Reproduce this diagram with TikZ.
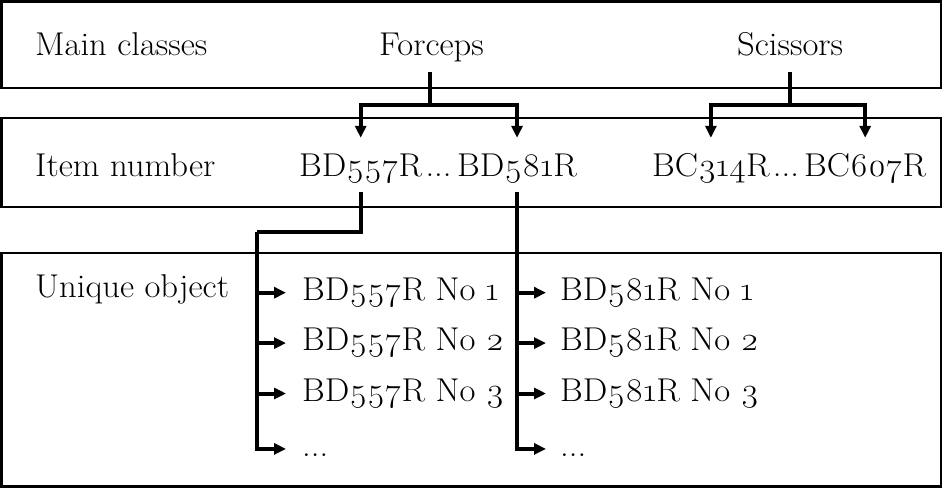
\documentclass[tikz,border=0pt]{standalone}
\usepackage{fontspec}
\setmainfont{Latin Modern Roman}[Numbers=OldStyle, FakeStretch=1.05]
\usetikzlibrary{arrows.meta, positioning}

\begin{document}
\begin{tikzpicture}[
    x=1pt, y=-1pt,
    % Global styles
    font=\fontsize{33}{38}\selectfont,
    node distance=21pt,
    % Text styles
    txt/.style={
        inner sep=0pt,
        text height=22pt,
        text depth=7pt,
        anchor=base west
    },
    item/.style={
        txt,
        anchor=north west
    },
    % Frame and line styles
    frame/.style={
        draw=black,
        line width=2.5pt
    },
    link/.style={
        line width=4pt,
        color=black
    },
    arrow/.style={
        link,
        -{Triangle[length=12pt, width=11pt]}
    }
]
\useasboundingbox (0,0) rectangle (943,488);

% --- Layers ---
\draw [frame] (1.5,1.5) rectangle (941,88);
\draw [frame] (1.5,118) rectangle (941,207);
\draw [frame] (1.5,253) rectangle (941,486.5);

% --- Nodes ---

% Main classes
\node (mainlbl) [txt] at (35,55) {Main classes};
\node (forceps) [txt] at (379,55) {Forceps};
\node (scissors) [txt] at (737,55) {Scissors};

% Item numbers
\node (itemlbl) [txt] at (35,176) {Item number};
\node (bd557) [txt] at (299,176) {BD557R};
\node (dotsbd) [txt, right=3pt of bd557.base east, anchor=base west] {...};
\node (bd581) [txt] at (457,176) {BD581R};
\node (bc314) [txt] at (652,176) {BC314R};
\node (dotsbc) [txt, right=3pt of bc314.base east, anchor=base west] {...};
\node (bc607) [txt] at (804,176) {BC607R};

% Unique objects
\node (uniquelbl) [txt] at (35,297) {Unique object};
\node (la) [item] at (302,278) {BD557R No 1};
\node (lb) [item, below=of la.south west, anchor=north west] {BD557R No 2};
\node (lc) [item, below=of lb.south west, anchor=north west] {BD557R No 3};
\node (ld) [item, below=26pt of lc.south west, anchor=north west] {...};
\node (ra) [item] at (560,278) {BD581R No 1};
\node (rb) [item, below=of ra.south west, anchor=north west] {BD581R No 2};
\node (rc) [item, below=of rb.south west, anchor=north west] {BD581R No 3};
\node (rd) [item, below=26pt of rc.south west, anchor=north west] {...};

% Joints
\coordinate (fjoint) at (430,105);
\coordinate (sjoint) at (790,105);
\coordinate (lcorner) at (257,232);

% --- Edges ---

% Classes to item numbers
\draw [link] (forceps.south -| fjoint) ++(0,10) -- (fjoint);
\draw [arrow, shorten >=16pt] (fjoint) -| (bd557.north);
\draw [arrow, shorten >=16pt] (fjoint) -| (bd581.north);
\draw [link] (scissors.south -| sjoint) ++(0,10) -- (sjoint);
\draw [arrow, shorten >=16pt] (sjoint) -| (bc314.north);
\draw [arrow, shorten >=16pt] (sjoint) -| (bc607.north);

% Item numbers to unique objects
\draw [link, shorten <=9pt] (bd557.south) |- (lcorner);
\draw [arrow, shorten >=16pt] (lcorner) |- (ld.west);
\draw [arrow, shorten >=16pt] (lcorner |- la.west) -- (la.west);
\draw [arrow, shorten >=16pt] (lcorner |- lb.west) -- (lb.west);
\draw [arrow, shorten >=16pt] (lcorner |- lc.west) -- (lc.west);

\draw [arrow, shorten <=9pt, shorten >=14pt] (bd581.south) |- (rd.west);
\draw [arrow, shorten >=14pt] (bd581.south |- ra.west) -- (ra.west);
\draw [arrow, shorten >=14pt] (bd581.south |- rb.west) -- (rb.west);
\draw [arrow, shorten >=14pt] (bd581.south |- rc.west) -- (rc.west);

\end{tikzpicture}
\end{document}
